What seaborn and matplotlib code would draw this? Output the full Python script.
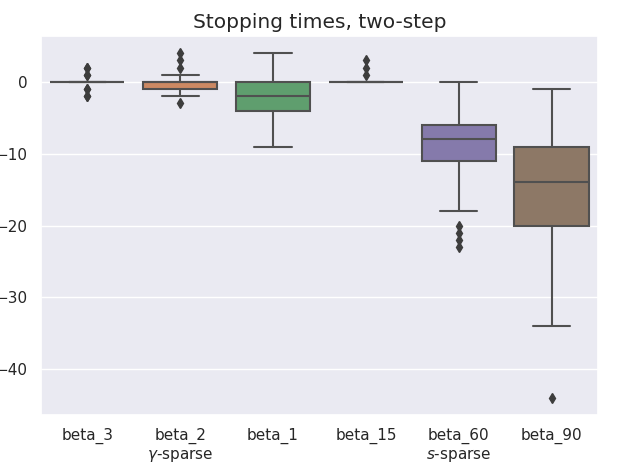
import matplotlib
matplotlib.use("Agg")
import matplotlib.pyplot as plt
import seaborn as sns
import pandas as pd

categories = ["beta_3", "beta_2", "beta_1", "beta_15", "beta_60", "beta_90"]
tick_labels = ["beta_3", "beta_2\n$\\gamma$-sparse", "beta_1", "beta_15",
               "beta_60\n$s$-sparse", "beta_90"]

beta_3 = [0] * 20 + [2, 2, 1, 1, -1, -1, -2, -2]
beta_2 = [-3, -2, -1, -1, -1, -1, -1, 0, 0, 0, 0, 0, 0, 0, 0, 1, 2, 3, 4]
beta_1 = [-9, -7, -5, -4, -4, -3, -2, -2, -1, 0, 0, 2, 4]
beta_15 = [0] * 20 + [1, 2, 3]
beta_60 = [-23, -22, -21, -20, -18, -11, -11, -10, -9, -8, -8, -8, -7, -7,
           -6, -6, -5, -4, -3, -1, 0]
beta_90 = [-44, -34, -30, -26, -23, -20, -20, -18, -17, -15, -14, -14, -13,
           -12, -11, -9, -9, -7, -5, -3, -2, -1]

series = [beta_3, beta_2, beta_1, beta_15, beta_60, beta_90]
rows = []
for cat, vals in zip(categories, series):
    for v in vals:
        rows.append((cat, v))
df = pd.DataFrame(rows, columns=["beta", "time"])

sns.set_theme(style="darkgrid")
plt.rcParams["font.family"] = ["DejaVu Sans"]

fig, ax = plt.subplots(figsize=(6.2, 4.65), dpi=100)
line_c = "#505050"
flier_c = "#3d3d3d"
sns.boxplot(data=df, x="beta", y="time", hue="beta", order=categories,
            hue_order=categories, palette="deep", saturation=0.75,
            legend=False, ax=ax, width=0.8, linewidth=1.5, linecolor=line_c,
            flierprops=dict(marker="d", markerfacecolor=flier_c,
                            markeredgecolor=flier_c, markersize=5))
ax.set_xticks(range(len(categories)))
ax.set_xticklabels(tick_labels, fontsize=11)
ax.tick_params(axis="y", labelsize=11)
ax.set_xlabel("")
ax.set_ylabel("")
ax.set_title("Stopping times, two-step", fontsize=14.5)
fig.subplots_adjust(left=0.066, right=0.9645, top=0.9226, bottom=0.1075)
fig.savefig("out.png", dpi=100)
